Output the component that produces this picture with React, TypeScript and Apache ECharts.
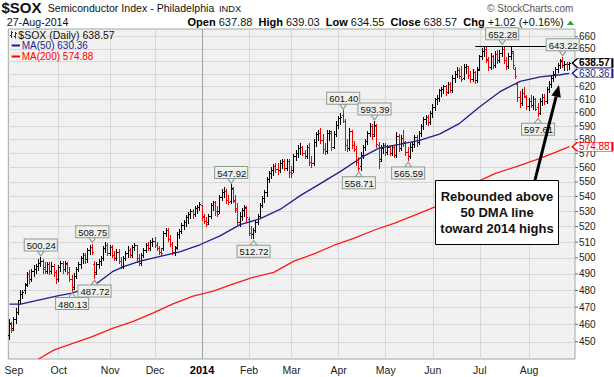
import React, { useEffect, useRef } from 'react';
import * as echarts from 'echarts';

const FONT = "'Liberation Sans', Arial, Helvetica, sans-serif";

// Trading days shown (Aug 29 2013 .. Aug 27 2014)
const tradingDays: [string, number[]][] = [
  ['2013-08', [29, 30]],
  ['2013-09', [3, 4, 5, 6, 9, 10, 11, 12, 13, 16, 17, 18, 19, 20, 23, 24, 25, 26, 27, 30]],
  ['2013-10', [1, 2, 3, 4, 7, 8, 9, 10, 11, 14, 15, 16, 17, 18, 21, 22, 23, 24, 25, 28, 29, 30, 31]],
  ['2013-11', [1, 4, 5, 6, 7, 8, 11, 12, 13, 14, 15, 18, 19, 20, 21, 22, 25, 26, 27, 29]],
  ['2013-12', [2, 3, 4, 5, 6, 9, 10, 11, 12, 13, 16, 17, 18, 19, 20, 23, 24, 26, 27, 30, 31]],
  ['2014-01', [2, 3, 6, 7, 8, 9, 10, 13, 14, 15, 16, 17, 21, 22, 23, 24, 27, 28, 29, 30, 31]],
  ['2014-02', [3, 4, 5, 6, 7, 10, 11, 12, 13, 14, 18, 19, 20, 21, 24, 25, 26, 27, 28]],
  ['2014-03', [3, 4, 5, 6, 7, 10, 11, 12, 13, 14, 17, 18, 19, 20, 21, 24, 25, 26, 27, 28, 31]],
  ['2014-04', [1, 2, 3, 4, 7, 8, 9, 10, 11, 14, 15, 16, 17, 21, 22, 23, 24, 25, 28, 29, 30]],
  ['2014-05', [1, 2, 5, 6, 7, 8, 9, 12, 13, 14, 15, 16, 19, 20, 21, 22, 23, 27, 28, 29, 30]],
  ['2014-06', [2, 3, 4, 5, 6, 9, 10, 11, 12, 13, 16, 17, 18, 19, 20, 23, 24, 25, 26, 27, 30]],
  ['2014-07', [1, 2, 3, 7, 8, 9, 10, 11, 14, 15, 16, 17, 18, 21, 22, 23, 24, 25, 28, 29, 30, 31]],
  ['2014-08', [1, 4, 5, 6, 7, 8, 11, 12, 13, 14, 15, 18, 19, 20, 21, 22, 25, 26, 27]],
];

// Daily bars [open, high, low, close]
const ohlc: number[][] = [
  [454, 463, 452, 461], [460, 461, 456, 457], [458, 464, 457, 463], [463, 469, 461, 467], [467, 474, 466, 472],
  [474, 480, 473, 478], [478, 480, 476, 479], [480, 484, 479, 483], [484, 491, 483, 490], [490, 492, 485, 487],
  [487, 493, 486, 492], [492, 495, 489, 493], [493, 496, 491, 495], [495, 499, 493, 497], [497, 500.24, 495, 498],
  [498, 499, 491, 493], [494, 497, 491, 492], [492, 497, 491, 496], [496, 497, 490, 492], [492, 497, 491, 495],
  [495, 496, 489, 491], [491, 492, 485, 487], [487, 495, 486, 494], [494, 498, 492, 497], [497, 498, 491, 493],
  [493, 498, 492, 497], [496, 497, 490, 491], [491, 494, 486, 487], [487, 489, 480.13, 481], [482, 490, 481, 489],
  [489, 494, 488, 493], [493, 497, 492, 496], [496, 501, 494, 500], [500, 503, 497, 502], [502, 503, 497, 499],
  [499, 506, 498, 505], [505, 508, 503, 507], [507, 508.75, 503, 504], [496, 497.5, 487.72, 490], [491, 497, 490, 496],
  [496, 499, 494, 498], [498, 501, 496, 500], [500, 507, 499, 506], [506, 510, 504, 508], [508, 509, 502, 503],
  [503, 508, 502, 507], [507, 508, 501, 502], [502, 504, 499, 500], [500, 505, 499, 504], [504, 505, 497, 498],
  [498, 500, 494, 495], [495, 501, 494, 500], [500, 504, 499, 503], [503, 507, 501, 505], [505, 506, 501, 502],
  [502, 508, 501, 507], [507, 509, 505, 508], [508, 508, 498, 500], [500, 502, 496, 497], [497, 503, 496, 502],
  [502, 506, 501, 505], [505, 509, 504, 508], [508, 510, 505, 506], [506, 511, 505, 510], [510, 512, 508, 511],
  [511, 513, 507, 508], [508, 510, 505, 506], [506, 507, 503, 504], [504, 506, 502, 503], [506, 517, 505, 516],
  [516, 519, 514, 518], [518, 519, 511, 512], [512, 514, 508, 509], [509, 510, 503, 504], [504, 507, 502, 506],
  [507, 516, 506, 515], [515, 518, 513, 517], [517, 522, 516, 521], [521, 524, 519, 523], [523, 527, 521, 526],
  [526, 529, 523, 528], [528, 531, 526, 530], [530, 531, 526, 528], [528, 533, 527, 532], [532, 534, 529, 533],
  [533, 536, 531, 535], [534, 534, 525, 526], [527, 528, 523, 524], [524, 526, 521, 522], [523, 528, 522, 527],
  [527, 535, 526, 534], [534, 537, 531, 536], [536, 537, 528, 530], [530, 533, 527, 528], [530, 541, 529, 540],
  [540, 545, 538, 543], [543, 546, 540, 544], [544, 545, 536, 538], [538, 541, 535, 536], [537, 547.92, 536, 546],
  [545, 546, 537, 538], [537, 541, 530, 532], [531, 535, 522, 523], [523, 529, 521, 527], [527, 532, 525, 531],
  [531, 534, 527, 533], [532, 533, 524, 526], [525, 526, 515, 516], [516, 520, 513, 515], [515, 519, 512.72, 518],
  [518, 524, 517, 523], [523, 528, 522, 527], [527, 535, 526, 534], [534, 540, 533, 539], [539, 544, 537, 543],
  [543, 553, 541, 552], [552, 557, 550, 556], [556, 560, 553, 558], [558, 562, 555, 561], [561, 563, 557, 559],
  [559, 563, 556, 558], [558, 565, 557, 563], [563, 566, 560, 565], [565, 566, 559, 560], [560, 566, 559, 565],
  [565, 566, 554, 557], [557, 561, 554, 556], [558, 569, 557, 568], [568, 572, 566, 570], [570, 576, 568, 574],
  [574, 577, 570, 575], [575, 575, 569, 570], [570, 572, 567, 568], [568, 576, 567, 575], [575, 577, 562, 564],
  [564, 568, 561, 563], [563, 580, 562, 578], [578, 585, 576, 584], [584, 587, 580, 585], [585, 588, 578, 580],
  [580, 584, 571, 573], [573, 577, 570, 572], [572, 587, 571, 585], [585, 587, 580, 586], [585, 586, 573, 575],
  [575, 586, 574, 584], [584, 593, 583, 591], [591, 597, 589, 596], [596, 599, 592, 597], [598, 601.4, 593, 594],
  [594, 595, 573, 576], [576, 580, 572, 574], [574, 588, 573, 586], [586, 587, 574, 576], [576, 579, 572, 573],
  [573, 575, 562, 564], [564, 567, 558.71, 560], [561, 571, 559, 569], [569, 576, 567, 575], [575, 580, 573, 579],
  [579, 586, 577, 585], [585, 592, 583, 590], [590, 591, 581, 583], [584, 593.39, 583, 591], [590, 591, 575, 577],
  [576, 578, 560, 565], [566, 576, 565, 574], [574, 577, 571, 576], [576, 577, 569, 571], [571, 576, 570, 575],
  [575, 576, 569, 570], [570, 576, 569, 575], [575, 576, 568, 569], [569, 585, 568, 583], [583, 584, 572, 574],
  [574, 583, 573, 581], [581, 587, 576, 578], [578, 579, 569, 571], [571, 574, 565.59, 568], [568, 577, 567, 575],
  [575, 578, 572, 577], [577, 583, 575, 582], [582, 583, 576, 578], [578, 586, 577, 585], [585, 591, 583, 590],
  [590, 596, 588, 595], [595, 598, 592, 597], [597, 598, 591, 593], [593, 601, 592, 600], [600, 606, 597, 604],
  [604, 611, 602, 610], [610, 613, 607, 611], [611, 618, 609, 617], [617, 619, 613, 618], [618, 621, 615, 620],
  [620, 621, 614, 616], [616, 623, 615, 622], [622, 623, 616, 617], [617, 629, 616, 627], [627, 632, 624, 630],
  [630, 635, 628, 633], [633, 634, 627, 628], [628, 636, 625, 626], [627, 637, 626, 635], [635, 637, 631, 636],
  [636, 636, 627, 629], [629, 632, 624, 626], [626, 633, 625, 631], [631, 632, 623, 625], [625, 635, 624, 633],
  [634, 645, 633, 644], [644, 650, 642, 648], [648, 651, 645, 650], [650, 651, 640, 642], [641, 643, 633, 635],
  [635, 646, 634, 644], [644, 645, 635, 637], [637, 648, 636, 646], [646, 649, 639, 641], [641, 649, 640, 647],
  [647, 652.28, 645, 650], [650, 651, 639, 641], [641, 643, 634, 636], [636, 646, 635, 644], [644, 651, 642, 648],
  [647, 648, 635, 637], [634, 635, 627, 628], [622, 623, 609, 612], [612, 616, 605, 607], [607, 618, 606, 615],
  [615, 619, 612, 613], [612, 613, 603, 605], [605, 611, 602, 609], [609, 613, 605, 606], [606, 612, 603, 610],
  [610, 611, 602, 603], [604, 607, 597.61, 600], [600, 611, 599, 609], [609, 614, 606, 612], [612, 614, 607, 609],
  [609, 619, 608, 618], [618, 624, 616, 622], [622, 629, 620, 627], [627, 632, 625, 630], [630, 635, 628, 634],
  [634, 638, 632, 637], [637, 641, 635, 640], [641, 643.22, 636, 637], [637, 640, 633, 638], [638, 639, 633.5, 637.55],
  [637.88, 639.03, 634.55, 638.57],
];

// Moving averages read at [bar index, value]
const ma50: [number, number][] = [
  [0, 471.8], [5, 471.8], [13, 474.2], [22, 476.8], [28, 478.4], [34, 481.2], [40, 485.2], [46, 491.4],
  [51, 494.5], [58, 497.8], [65, 500.2], [76, 503.8], [85, 508.3], [94, 514], [103, 521.3], [112, 525.2],
  [121, 531.5], [130, 540.8], [139, 549], [148, 557.5], [157, 567], [165, 573.8], [174, 576.5], [183, 579.5],
  [192, 584], [201, 592], [210, 604.5], [219, 616], [228, 624], [237, 627.5], [246, 629.2], [250, 630.36],
];
const ma200: [number, number][] = [
  [13, 440.4], [20, 445.5], [28, 449], [37, 453], [46, 457.6], [55, 461.5], [64, 466.5], [73, 472],
  [82, 476.5], [91, 479.5], [100, 484], [109, 488], [118, 491], [127, 498], [136, 502.5], [145, 508],
  [154, 512.5], [163, 517.8], [172, 522.3], [181, 527.5], [190, 533], [199, 541], [208, 549.5], [217, 556],
  [226, 560.5], [235, 565.5], [244, 571], [250, 574.88],
];

const yTicks = [450, 460, 470, 480, 490, 500, 510, 520, 530, 540, 550, 560, 570, 580, 590, 600, 610, 620, 630, 640, 650, 660];
// tick labels that sit hidden behind the price / MA(50) value boxes
const hiddenTickLabels = [630, 640];
const monthAbbr: Record<string, string> = {
  '01': 'Jan', '02': 'Feb', '03': 'Mar', '04': 'Apr', '05': 'May', '06': 'Jun',
  '07': 'Jul', '08': 'Aug', '09': 'Sep', '10': 'Oct', '11': 'Nov', '12': 'Dec',
};
// [bar index, value, H=label above high / L=label below low]
const peakLabels: [number, number, 'H' | 'L'][] = [
  [14, 500.24, 'H'], [28, 480.13, 'L'], [37, 508.75, 'H'], [38, 487.72, 'L'], [99, 547.92, 'H'],
  [109, 512.72, 'L'], [149, 601.4, 'H'], [156, 558.71, 'L'], [163, 593.39, 'H'], [178, 565.59, 'L'],
  [220, 652.28, 'H'], [247, 643.22, 'H'], [236, 597.61, 'L'],
];
const resistanceLevel = 652.28;
const resistanceStart = 208;
const lastClose = 638.57;
const lastMA50 = 630.36;
const lastMA200 = 574.88;
const quote = { open: '637.88', high: '639.03', low: '634.55', close: '638.57', chg: '+1.02 (+0.16%)' };
const annotationText = 'Rebounded above\n50 DMA line\ntoward 2014 highs';

export default function App() {
  const ref = useRef<HTMLDivElement>(null);

  useEffect(() => {
    if (!ref.current) return;
    const chart = echarts.init(ref.current, null, { renderer: 'svg' });

    const dates: string[] = [];
    const monthStarts: { idx: number; ym: string }[] = [];
    tradingDays.forEach(([ym, days]) => {
      days.forEach((d, k) => {
        if (k === 0) monthStarts.push({ idx: dates.length, ym });
        dates.push(`${ym}-${String(d).padStart(2, '0')}`);
      });
    });
    const categories = [...dates, 'pad1', 'pad2'];
    const lastCat = categories.length - 1;

    const labelMonths = monthStarts.filter((m) => m.ym !== '2013-08');
    const labelMap: Record<number, string> = {};
    labelMonths.forEach((m) => {
      const [y, mo] = m.ym.split('-');
      labelMap[m.idx] = mo === '01' ? `{y|${y}}` : monthAbbr[mo];
    });
    const gridMonths = labelMonths.filter((m) => m.ym !== '2013-09');

    const priceData = ohlc.map((d, i) => [i, d[0], d[1], d[2], d[3], i === 0 || d[3] >= ohlc[i - 1][3] ? 1 : 0]);

    const renderItem = (params: any, api: any) => {
      const i = api.value(0);
      const pO = api.coord([i, api.value(1)]);
      const pH = api.coord([i, api.value(2)]);
      const pL = api.coord([i, api.value(3)]);
      const pC = api.coord([i, api.value(4)]);
      const color = api.value(5) ? '#000000' : '#f00000';
      const x = Math.floor(pH[0]) + 0.5;
      const yo = Math.round(pO[1]) + 0.5;
      const yc = Math.round(pC[1]) + 0.5;
      const style = { stroke: color, lineWidth: 1 };
      return {
        type: 'group',
        children: [
          { type: 'line', shape: { x1: x, y1: Math.floor(pH[1]), x2: x, y2: Math.ceil(pL[1]) + 1 }, style },
          { type: 'line', shape: { x1: x - 1.5, y1: yo, x2: x, y2: yo }, style },
          { type: 'line', shape: { x1: x, y1: yc, x2: x + 1.5, y2: yc }, style },
        ],
      };
    };

    const boxLabel = {
      fontFamily: FONT,
      fontSize: 9.5,
      color: '#111',
      backgroundColor: '#eef1ee',
      borderColor: '#8c9c8c',
      borderWidth: 1,
      padding: [1, 1, 0, 2],
      lineHeight: 10,
    };

    const peakPoints = peakLabels.map(([i, v, side]) => ({
      coord: [i, v],
      symbol: side === 'H' ? 'path://M0,0L10,0L5,7Z' : 'path://M5,0L10,7L0,7Z',
      symbolSize: [7, 5],
      symbolKeepAspect: false,
      symbolOffset: [0, side === 'H' ? -4 : 5],
      itemStyle: { color: '#eef1ee', borderColor: '#8c9c8c', borderWidth: 1 },
      label: {
        show: true,
        position: side === 'H' ? 'top' : 'bottom',
        distance: 0,
        formatter: v.toFixed(2),
        ...boxLabel,
      },
    }));

    const valueBoxes = ([
      [lastClose, '#000000', true],
      [lastMA50, '#1f1f8f', false],
      [lastMA200, '#ff0000', false],
    ] as [number, string, boolean][]).map(([v, c, bold]) => ({
      coord: [lastCat, v],
      symbol: 'path://M0,4.5L5,0L40,0L40,9L5,9Z',
      symbolSize: [40, 9],
      symbolKeepAspect: false,
      symbolOffset: [18.5, 0],
      itemStyle: { color: '#ffffff', borderColor: c, borderWidth: 1 },
      label: {
        show: true,
        position: 'inside',
        offset: [2, 0],
        formatter: v.toFixed(2),
        fontFamily: FONT,
        fontSize: 10,
        lineHeight: 9,
        fontWeight: bold ? 'bold' : 'normal',
        color: bold ? '#000' : c,
      },
    }));

    const hGrid = yTicks.map((v) => ({
      yAxis: v,
      lineStyle: { color: '#d8d8d8', width: 1, type: 'solid' },
      label: {
        show: true,
        position: 'end',
        distance: 0,
        formatter: hiddenTickLabels.includes(v) ? '{t|}' : `{t|}{v|${v}}`,
        rich: {
          t: { width: 3, height: 1, backgroundColor: '#666', verticalAlign: 'middle' },
          v: { fontFamily: FONT, fontSize: 10, color: '#222', padding: [0, 0, 0, 1], verticalAlign: 'middle' },
        },
      },
    }));
    const vGrid = gridMonths.map((m) => ({
      xAxis: m.idx,
      lineStyle: { color: m.ym === '2014-01' ? '#a0a0a0' : '#d8d8d8', width: 1, type: 'solid' },
      label: { show: false },
    }));

    const option: any = {
      animation: false,
      backgroundColor: '#ffffff',
      grid: {
        left: 8.3,
        right: 39,
        top: 29,
        bottom: 18,
        show: true,
        backgroundColor: '#f1f1f1',
        borderColor: '#9aaba0',
        borderWidth: 1,
        containLabel: false,
        outerBoundsMode: 'none',
      },
      xAxis: {
        type: 'category',
        data: categories,
        boundaryGap: true,
        axisLine: { show: false },
        axisTick: { show: false },
        splitLine: { show: false },
        axisLabel: {
          interval: (idx: number) => labelMap[idx] !== undefined,
          formatter: (_v: string, idx: number) => labelMap[idx] ?? '',
          fontFamily: FONT,
          fontSize: 10.5,
          color: '#222',
          margin: 5,
          rich: { y: { fontFamily: FONT, fontSize: 11, fontWeight: 'bold', color: '#000' } },
        },
      },
      yAxis: {
        type: 'log',
        logBase: 10,
        min: 440.4,
        max: 666.4,
        axisLine: { show: false },
        axisTick: { show: false },
        axisLabel: { show: false },
        splitLine: { show: false },
      },
      series: [
        {
          name: '$SOX',
          type: 'custom',
          renderItem,
          data: priceData,
          encode: { x: 0, y: [1, 2, 3, 4] },
          z: 3,
        },
        {
          name: 'MA(200)',
          type: 'line',
          data: ma200,
          symbol: 'none',
          lineStyle: { color: '#ff1a1a', width: 1.3 },
          z: 4,
          markLine: {
            silent: true,
            symbol: ['none', 'none'],
            z: 1,
            animation: false,
            data: [...hGrid, ...vGrid],
          },
        },
        {
          name: 'MA(50)',
          type: 'line',
          data: ma50,
          symbol: 'none',
          lineStyle: { color: '#1f1f8f', width: 1.3 },
          z: 4,
          markLine: {
            silent: true,
            symbol: ['none', 'none'],
            animation: false,
            data: [
              [
                { coord: [resistanceStart, resistanceLevel], lineStyle: { color: '#000', width: 1, type: 'solid' }, label: { show: false } },
                { coord: [lastCat, resistanceLevel] },
              ],
            ],
          },
          markPoint: {
            silent: true,
            animation: false,
            data: [...peakPoints, ...valueBoxes],
          },
        },
      ],
      graphic: [
        { type: 'text', x: 1.5, y: 7, z: 100, style: { text: '$SOX', font: `bold 15px ${FONT}`, fill: '#111', verticalAlign: 'middle' } },
        { type: 'text', x: 47.7, y: 7.8, z: 100, style: { text: 'Semiconductor Index - Philadelphia', font: `10.6px ${FONT}`, fill: '#111', verticalAlign: 'middle' } },
        { type: 'text', x: 219, y: 8.5, z: 100, style: { text: 'INDX', font: `9.3px ${FONT}`, fill: '#111', verticalAlign: 'middle' } },
        { type: 'text', x: 573.4, y: 8, z: 100, style: { text: '\u00a9 StockCharts.com', font: `10px ${FONT}`, fill: '#555', align: 'right', verticalAlign: 'middle' } },
        { type: 'text', x: 6.7, y: 22, z: 100, style: { text: '27-Aug-2014', font: `10.7px ${FONT}`, fill: '#111', verticalAlign: 'middle' } },
        {
          type: 'text', x: 563.6, y: 22, z: 100,
          style: {
            text: `{b|Open} ${quote.open}  {b|High} ${quote.high}  {b|Low} ${quote.low}  {b|Close} ${quote.close}  {b|Chg} ${quote.chg}`,
            font: `11px ${FONT}`, fill: '#111', align: 'right', verticalAlign: 'middle',
            rich: { b: { font: `bold 11px ${FONT}`, fill: '#000' } },
          },
        },
        { type: 'polygon', z: 100, shape: { points: [[567, 25], [574, 25], [570.5, 20.5]] }, style: { fill: '#22aa22' } },
        // legend
        { type: 'line', z: 100, shape: { x1: 11.5, y1: 31, x2: 11.5, y2: 38 }, style: { stroke: '#333', lineWidth: 1 } },
        { type: 'line', z: 100, shape: { x1: 10, y1: 35.5, x2: 11.5, y2: 35.5 }, style: { stroke: '#333', lineWidth: 1 } },
        { type: 'line', z: 100, shape: { x1: 11.5, y1: 32.5, x2: 13, y2: 32.5 }, style: { stroke: '#333', lineWidth: 1 } },
        { type: 'line', z: 100, shape: { x1: 15.5, y1: 32, x2: 15.5, y2: 38.5 }, style: { stroke: '#333', lineWidth: 1 } },
        { type: 'line', z: 100, shape: { x1: 14, y1: 36.5, x2: 15.5, y2: 36.5 }, style: { stroke: '#333', lineWidth: 1 } },
        { type: 'line', z: 100, shape: { x1: 15.5, y1: 33.5, x2: 17, y2: 33.5 }, style: { stroke: '#333', lineWidth: 1 } },
        { type: 'text', x: 18.3, y: 34.8, z: 100, style: { text: `$SOX (Daily) ${lastClose.toFixed(2)}`, font: `10.5px ${FONT}`, fill: '#111', verticalAlign: 'middle' } },
        { type: 'line', z: 100, shape: { x1: 11.7, y1: 45.5, x2: 20, y2: 45.5 }, style: { stroke: '#1f1f8f', lineWidth: 2 } },
        { type: 'text', x: 21.7, y: 45.8, z: 100, style: { text: `MA(50) ${lastMA50.toFixed(2)}`, font: `10px ${FONT}`, fill: '#1f1f8f', verticalAlign: 'middle' } },
        { type: 'line', z: 100, shape: { x1: 11.7, y1: 56.5, x2: 20, y2: 56.5 }, style: { stroke: '#ff0000', lineWidth: 2 } },
        { type: 'text', x: 21.7, y: 56.8, z: 100, style: { text: `MA(200) ${lastMA200.toFixed(2)}`, font: `10px ${FONT}`, fill: '#ff0000', verticalAlign: 'middle' } },
        // annotation
        { type: 'rect', z: 100, shape: { x: 435.5, y: 180.5, width: 123, height: 64 }, style: { fill: '#ffffff', stroke: '#000', lineWidth: 1 } },
        {
          type: 'text', x: 497, y: 212.5, z: 101,
          style: { text: annotationText, font: `bold 13px ${FONT}`, fill: '#111', align: 'center', verticalAlign: 'middle', lineHeight: 16 },
        },
        { type: 'line', z: 100, shape: { x1: 535, y1: 180, x2: 556.1, y2: 96.6 }, style: { stroke: '#000', lineWidth: 3 } },
        { type: 'polygon', z: 100, shape: { points: [[559, 85], [560.8, 97.8], [551.4, 95.4]] }, style: { fill: '#000' } },
      ],
    };

    chart.setOption(option);
    return () => chart.dispose();
  }, []);

  return (
    <div
      ref={ref}
      style={{ position: 'fixed', left: 0, top: 0, width: 614, height: 377, background: '#ffffff' }}
    />
  );
}
